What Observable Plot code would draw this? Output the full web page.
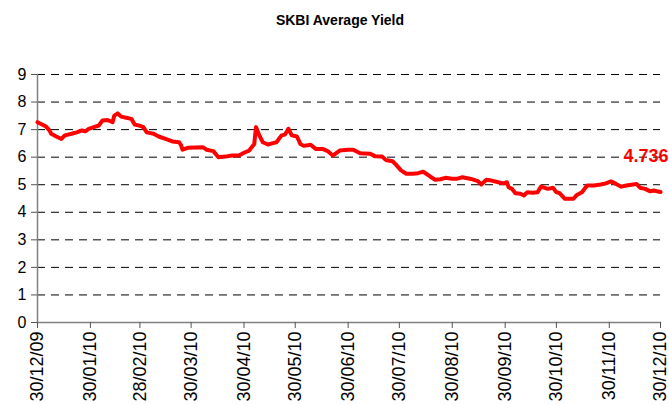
<!DOCTYPE html>
<html>
<head>
<meta charset="utf-8">
<script src="https://cdn.jsdelivr.net/npm/d3@7"></script>
<script src="https://cdn.jsdelivr.net/npm/@observablehq/plot@0.6"></script>
<style>
  body { margin: 0; background: #fff; width: 669px; height: 404px; overflow: hidden; }
  #title { height: 38px; text-align: center; padding-left: 11px; box-sizing: border-box;
           font: bold 14px "Liberation Sans", Arial, sans-serif; line-height: 40px; color: #000; }
</style>
</head>
<body>
<div id="title">SKBI Average Yield</div>
<div id="chart"></div>
<script>
const titleText = "SKBI Average Yield";
const dates = [
  "2009-12-30","2010-01-04","2010-01-06","2010-01-07","2010-01-10","2010-01-13","2010-01-15","2010-01-19",
  "2010-01-22","2010-01-25","2010-01-27","2010-01-29","2010-02-01","2010-02-04","2010-02-06","2010-02-09",
  "2010-02-12","2010-02-13","2010-02-15","2010-02-17","2010-02-20","2010-02-23","2010-02-25","2010-02-28",
  "2010-03-02","2010-03-04","2010-03-08","2010-03-11","2010-03-15","2010-03-19","2010-03-23","2010-03-24",
  "2010-03-25","2010-03-28","2010-04-06","2010-04-08","2010-04-12","2010-04-15","2010-04-19","2010-04-23",
  "2010-04-27","2010-04-30","2010-05-03","2010-05-06","2010-05-07","2010-05-09","2010-05-11","2010-05-14",
  "2010-05-17","2010-05-19","2010-05-22","2010-05-24","2010-05-26","2010-05-28","2010-05-31","2010-06-02",
  "2010-06-04","2010-06-08","2010-06-11","2010-06-15","2010-06-18","2010-06-21","2010-06-25","2010-06-30",
  "2010-07-03","2010-07-07","2010-07-13","2010-07-16","2010-07-20","2010-07-22","2010-07-26","2010-07-28",
  "2010-07-31","2010-08-03","2010-08-07","2010-08-10","2010-08-13","2010-08-17","2010-08-20","2010-08-23",
  "2010-08-26","2010-08-30","2010-09-02","2010-09-05","2010-09-10","2010-09-14","2010-09-16","2010-09-19",
  "2010-09-22","2010-09-26","2010-09-29","2010-10-01","2010-10-02","2010-10-04","2010-10-06","2010-10-09",
  "2010-10-11","2010-10-13","2010-10-16","2010-10-19","2010-10-21","2010-10-25","2010-10-28","2010-10-30",
  "2010-11-01","2010-11-04","2010-11-09","2010-11-11","2010-11-14","2010-11-17","2010-11-21","2010-11-25",
  "2010-11-28","2010-12-01","2010-12-04","2010-12-07","2010-12-10","2010-12-14","2010-12-16","2010-12-18",
  "2010-12-21","2010-12-24","2010-12-26","2010-12-28","2010-12-30"
];
const yields = [
  7.27,7.11,6.97,6.85,6.75,6.66,6.79,6.85,
  6.90,6.97,6.94,7.03,7.09,7.15,7.33,7.35,
  7.27,7.51,7.59,7.47,7.43,7.39,7.18,7.14,
  7.09,6.90,6.85,6.75,6.66,6.57,6.54,6.45,
  6.27,6.34,6.36,6.27,6.22,6.00,6.02,6.06,
  6.06,6.16,6.24,6.48,7.09,6.79,6.54,6.46,
  6.51,6.54,6.79,6.82,7.03,6.79,6.75,6.48,
  6.41,6.45,6.30,6.30,6.22,6.06,6.24,6.27,
  6.27,6.14,6.12,6.03,6.02,5.90,5.85,5.73,
  5.52,5.40,5.40,5.42,5.47,5.30,5.18,5.20,
  5.25,5.22,5.22,5.27,5.21,5.13,5.01,5.18,
  5.15,5.09,5.05,5.09,4.91,4.85,4.69,4.67,
  4.61,4.73,4.71,4.73,4.93,4.85,4.89,4.73,
  4.69,4.49,4.49,4.63,4.73,4.97,4.97,5.01,
  5.05,5.12,5.03,4.93,4.97,5.01,5.03,4.89,
  4.85,4.76,4.79,4.76,4.736
];
const xTickDates = ["2009-12-30","2010-01-30","2010-02-28","2010-03-30","2010-04-30","2010-05-30",
  "2010-06-30","2010-07-30","2010-08-30","2010-09-30","2010-10-30","2010-11-30","2010-12-30"];
const yTicks = [0,1,2,3,4,5,6,7,8,9];
const gridValues = [1,2,3,4,5,6,7,8,9];

const parse = d3.utcParse("%Y-%m-%d");
const data = dates.map((d, i) => ({date: parse(d), value: yields[i]}));
const ticks = xTickDates.map(parse);
const last = data[data.length - 1];

const chart = Plot.plot({
  width: 669,
  height: 366,
  marginLeft: 37,
  marginRight: 9,
  marginTop: 36,
  marginBottom: 82,
  style: {fontFamily: '"Liberation Sans", Arial, sans-serif', fontSize: "16px", color: "#000", background: "#fff"},
  x: {type: "utc", domain: [ticks[0], ticks[ticks.length - 1]]},
  y: {domain: [0, 9]},
  marks: [
    Plot.gridY(gridValues, {stroke: "#000", strokeOpacity: 1, strokeWidth: 1, strokeDasharray: "8,6"}),
    Plot.frame({anchor: "left", stroke: "#808080", strokeWidth: 1.5}),
    Plot.frame({anchor: "bottom", stroke: "#808080", strokeWidth: 1.5}),
    Plot.axisY(yTicks, {tickSize: 6, tickPadding: 5, stroke: "#555", fontSize: 16, label: null}),
    Plot.axisX(ticks, {tickSize: 6, tickPadding: 3, tickRotate: -90, stroke: "#555", fontSize: 18,
      tickFormat: d3.utcFormat("%d/%m/%y"), label: null}),
    Plot.line(data, {x: "date", y: "value", stroke: "#ff0000", strokeWidth: 4, strokeLinejoin: "round"}),
    Plot.text([last], {x: "date", y: "value", text: d => d.value.toFixed(3), textAnchor: "end",
      dx: 8, dy: -36, fill: "#ff0000", fontWeight: "bold", fontSize: 18})
  ]
});
document.getElementById("chart").appendChild(chart);
</script>
</body>
</html>
